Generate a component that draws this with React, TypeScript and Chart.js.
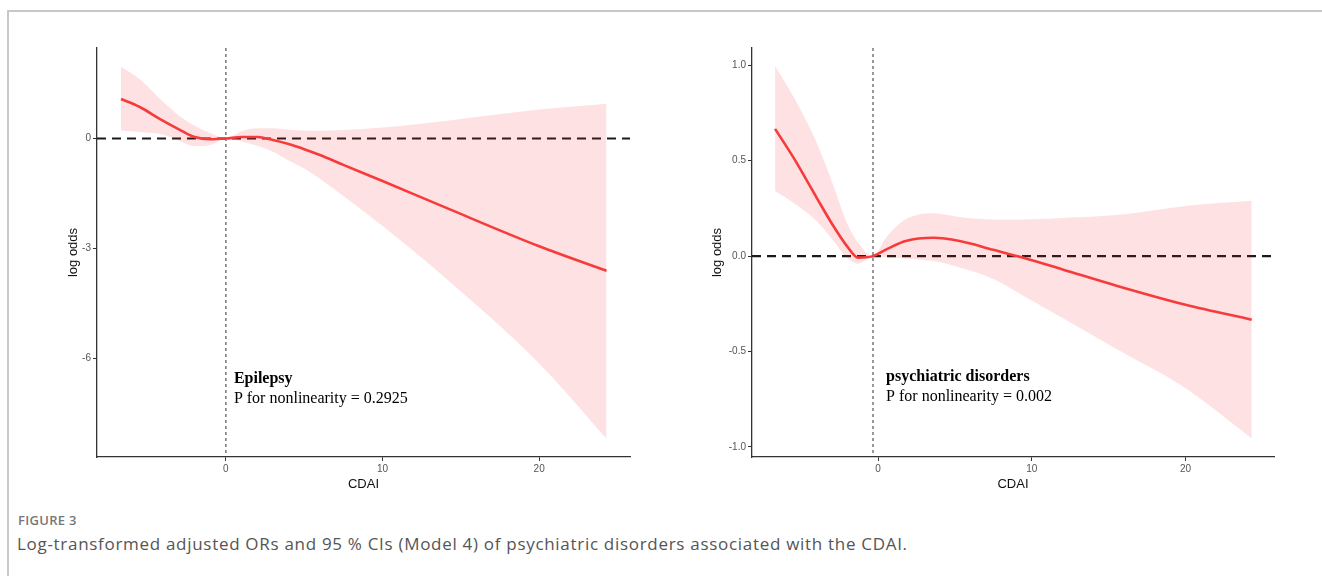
import React, { useEffect, useRef } from 'react';
import { Chart, registerables } from 'chart.js';
Chart.register(...registerables);

// ---------- Data: Epilepsy (left panel) ----------
const epiCdai = [-6.7, -5.5, -4.2, -3.0, -2.0, -1.0, 0, 1.0, 2.0, 3.0, 4.0, 5.0, 6.0, 7.5, 10, 14, 20, 24.3];
const epiLogOdds = [1.08, 0.86, 0.53, 0.25, 0.04, -0.02, 0, 0.04, 0.04, -0.04, -0.15, -0.29, -0.45, -0.72, -1.16, -1.88, -2.94, -3.61];
const epiUpper = [1.96, 1.62, 1.08, 0.63, 0.35, 0.15, 0, 0.2, 0.28, 0.28, 0.24, 0.22, 0.21, 0.23, 0.3, 0.48, 0.79, 0.95];
const epiLower = [0.22, 0.18, 0.12, -0.06, -0.21, -0.18, 0, -0.08, -0.2, -0.36, -0.6, -0.82, -1.1, -1.57, -2.39, -3.8, -6.14, -8.19];

// ---------- Data: psychiatric disorders (right panel) ----------
const psyCdai = [-6.7, -5.5, -4.0, -3.0, -2.0, -1.3, -0.35, 0.6, 1.8, 3.6, 5.3, 7.5, 9.5, 12, 15.5, 20, 24.3];
const psyLogOdds = [0.667, 0.516, 0.307, 0.17, 0.05, -0.008, 0, 0.038, 0.079, 0.096, 0.079, 0.033, -0.01, -0.07, -0.155, -0.255, -0.333];
const psyUpper = [0.996, 0.835, 0.596, 0.39, 0.17, 0.07, 0.0, 0.105, 0.193, 0.225, 0.205, 0.192, 0.192, 0.2, 0.215, 0.263, 0.29];
const psyLower = [0.342, 0.28, 0.184, 0.09, -0.01, -0.04, 0, -0.006, -0.012, -0.026, -0.06, -0.12, -0.21, -0.325, -0.487, -0.693, -0.956];

// ---------- Ticks & labels ----------
const xTicks = [0, 10, 20];
const epiYTicks = [-6, -3, 0];
const psyYTicks = [-1, -0.5, 0, 0.5, 1];
const xTitle = 'CDAI';
const yTitle = 'log odds';
const epiLabel = ['Epilepsy', 'P for nonlinearity = 0.2925'];
const psyLabel = ['psychiatric disorders', 'P for nonlinearity = 0.002'];
const figureLabel = 'FIGURE 3';
const captionText = 'Log-transformed adjusted ORs and 95 % CIs (Model 4) of psychiatric disorders associated with the CDAI.';

const SANS = '"Liberation Sans", Arial, sans-serif';
const SERIF = '"Liberation Serif", "Times New Roman", serif';

const refLines = {
  id: 'refLines',
  beforeDatasetsDraw(chart: any, _args: any, opts: any) {
    const { ctx, chartArea, scales } = chart;
    const x = scales.x, y = scales.y;
    ctx.save();
    const vx = x.getPixelForValue(opts.vx);
    ctx.strokeStyle = '#333';
    ctx.lineWidth = 1;
    ctx.setLineDash([3, 3]);
    ctx.beginPath();
    ctx.moveTo(vx, chartArea.top);
    ctx.lineTo(vx, chartArea.bottom);
    ctx.stroke();
    const hy = y.getPixelForValue(0);
    ctx.strokeStyle = '#1a1a1a';
    ctx.lineWidth = 2.2;
    ctx.setLineDash([9, 6]);
    ctx.beginPath();
    ctx.moveTo(chartArea.left, hy);
    ctx.lineTo(chartArea.right, hy);
    ctx.stroke();
    ctx.restore();
  },
  afterDatasetsDraw(chart: any, _args: any, opts: any) {
    const { ctx, scales } = chart;
    const px = scales.x.getPixelForValue(opts.ax);
    const py = scales.y.getPixelForValue(opts.ay);
    ctx.save();
    ctx.fillStyle = '#000';
    ctx.textBaseline = 'alphabetic';
    ctx.textAlign = 'left';
    ctx.font = `bold 16px ${SERIF}`;
    ctx.fillText(opts.lines[0], px, py);
    ctx.font = `16px ${SERIF}`;
    ctx.fillText(opts.lines[1], px, py + 19.5);
    ctx.restore();
  },
};

function makeConfig(p: any) {
  const pts = (xs: number[], ys: number[]) => xs.map((x, i) => ({ x, y: ys[i] }));
  return {
    type: 'line',
    data: {
      datasets: [
        {
          data: pts(p.xs, p.fit),
          borderColor: '#F73B3B',
          borderWidth: 2.6,
          pointRadius: 0,
          fill: false,
          cubicInterpolationMode: 'monotone',
        },
        {
          data: pts(p.xs, p.upper),
          borderWidth: 0,
          borderColor: 'rgba(0,0,0,0)',
          pointRadius: 0,
          fill: false,
          cubicInterpolationMode: 'monotone',
        },
        {
          data: pts(p.xs, p.lower),
          borderWidth: 0,
          borderColor: 'rgba(0,0,0,0)',
          backgroundColor: 'rgba(250,30,40,0.13)',
          pointRadius: 0,
          fill: '-1',
          cubicInterpolationMode: 'monotone',
        },
      ],
    },
    options: {
      animation: false,
      responsive: false,
      events: [],
      layout: { padding: p.padding },
      plugins: {
        legend: { display: false },
        tooltip: { enabled: false },
        refLines: { vx: p.vx, ax: p.ax, ay: p.ay, lines: p.lines },
      },
      scales: {
        x: {
          type: 'linear',
          min: p.xmin,
          max: p.xmax,
          afterBuildTicks: (s: any) => { s.ticks = xTicks.map((v) => ({ value: v })); },
          afterFit: (s: any) => { s.height = 35; },
          grid: { drawOnChartArea: false, drawTicks: true, tickLength: 4, color: '#333', lineWidth: 1 },
          border: { display: true, color: '#333', width: 1.3 },
          ticks: { color: '#555', font: { size: 10, family: SANS }, padding: 2, maxRotation: 0, autoSkip: false, callback: (v: any) => String(v) },
          title: { display: true, text: xTitle, color: '#111', font: { size: 13, family: SANS }, padding: { top: 0, bottom: 0 } },
        },
        y: {
          type: 'linear',
          min: p.ymin,
          max: p.ymax,
          afterBuildTicks: (s: any) => { s.ticks = p.yTicks.map((v: number) => ({ value: v })); },
          afterFit: (s: any) => { s.width = p.yWidth; },
          grid: { drawOnChartArea: false, drawTicks: true, tickLength: 4, color: '#333', lineWidth: 1 },
          border: { display: true, color: '#333', width: 1.3 },
          ticks: { color: '#555', font: { size: 10, family: SANS }, padding: 2, autoSkip: false, callback: (v: any) => Number(v).toFixed(p.yDec) },
          title: { display: true, text: yTitle, color: '#111', font: { size: 13, family: SANS }, padding: { top: 8, bottom: 0 } },
        },
      },
    },
    plugins: [refLines],
  } as any;
}

export default function App() {
  const leftRef = useRef<HTMLCanvasElement>(null);
  const rightRef = useRef<HTMLCanvasElement>(null);

  useEffect(() => {
    const left = new Chart(leftRef.current as HTMLCanvasElement, makeConfig({
      xs: epiCdai, fit: epiLogOdds, upper: epiUpper, lower: epiLower,
      xmin: -8.23, xmax: 25.8, ymin: -8.69, ymax: 2.47,
      yTicks: epiYTicks, yDec: 0, yWidth: 39,
      padding: { left: 58, top: 48, right: 30, bottom: 8 },
      vx: 0, ax: 0.51, ay: -6.68, lines: epiLabel,
    }));
    const right = new Chart(rightRef.current as HTMLCanvasElement, makeConfig({
      xs: psyCdai, fit: psyLogOdds, upper: psyUpper, lower: psyLower,
      xmin: -8.2, xmax: 25.75, ymin: -1.053, ymax: 1.091,
      yTicks: psyYTicks, yDec: 1, yWidth: 50,
      padding: { left: 42, top: 48, right: 48, bottom: 8 },
      vx: -0.33, ax: 0.52, ay: -0.656, lines: psyLabel,
    }));
    return () => { left.destroy(); right.destroy(); };
  }, []);

  return (
    <div style={{ position: 'fixed', left: 0, top: 0, width: 1322, height: 576, background: '#fff', overflow: 'hidden' }}>
      <div style={{ position: 'absolute', left: 7, top: 10, right: -10, bottom: -10, borderTop: '2px solid #c8c8c8', borderLeft: '2px solid #c8c8c8' }} />
      <canvas ref={leftRef} width={660} height={500} style={{ position: 'absolute', left: 0, top: 0, width: 660, height: 500 }} />
      <canvas ref={rightRef} width={662} height={500} style={{ position: 'absolute', left: 660, top: 0, width: 662, height: 500 }} />
      <div style={{ position: 'absolute', left: 18, top: 511, fontFamily: '"Open Sans", sans-serif', fontSize: 13, fontWeight: 600, letterSpacing: '0.3px', color: '#777', whiteSpace: 'nowrap', lineHeight: 'normal' }}>{figureLabel}</div>
      <div style={{ position: 'absolute', left: 17, top: 532, fontFamily: '"Open Sans", sans-serif', fontSize: 17, letterSpacing: '0.7px', color: '#555', whiteSpace: 'nowrap', lineHeight: 'normal' }}>{captionText}</div>
    </div>
  );
}
